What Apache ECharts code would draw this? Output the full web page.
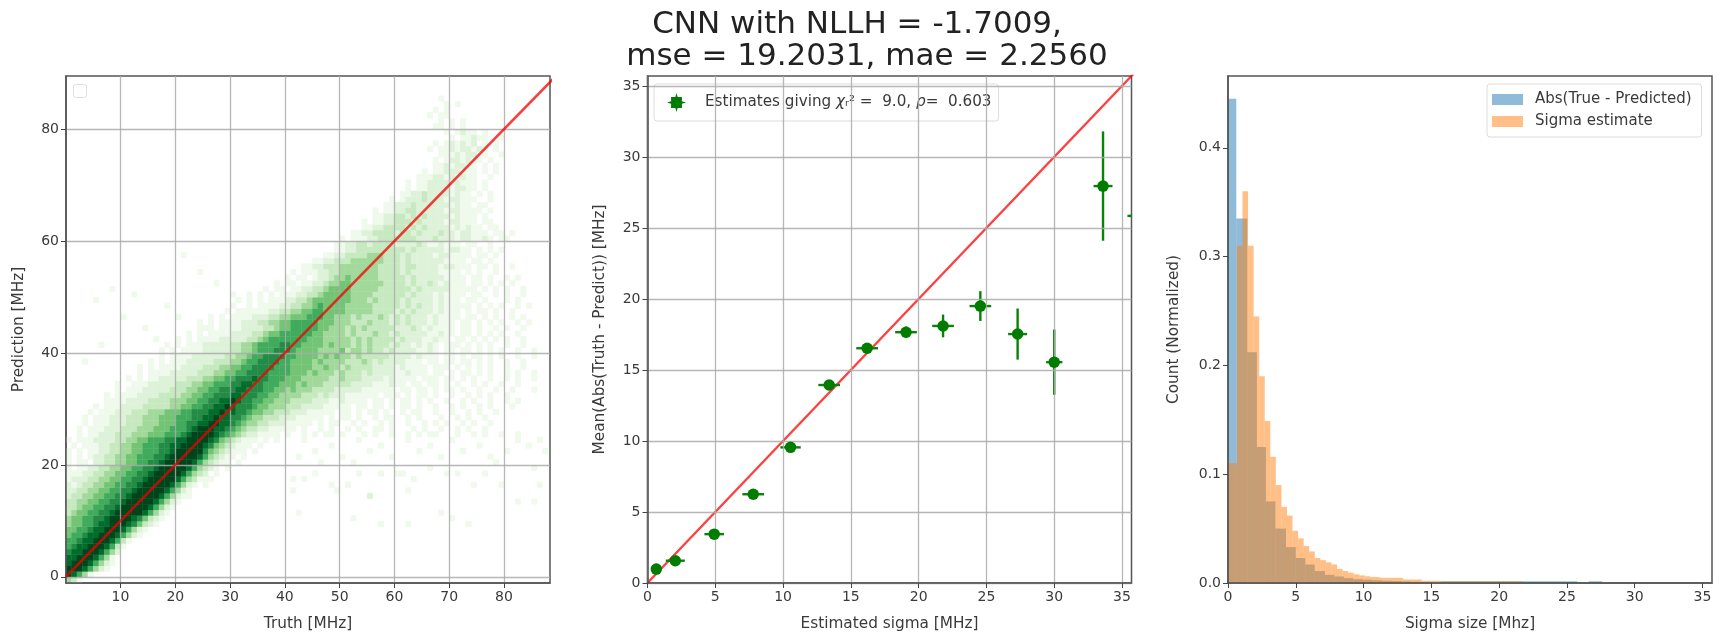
<!DOCTYPE html>
<html><head><meta charset="utf-8">
<style>html,body{margin:0;padding:0;background:#fff}#c{width:1719px;height:634px}#c canvas{filter:blur(0.5px)}</style>
<script src="https://cdn.jsdelivr.net/npm/echarts@6/dist/echarts.min.js"></script>
</head><body><div id="c"></div>
<script>
// Panel 1: 2D histogram, shade levels 0-9. One string per 1 MHz prediction row, first row is -1.
// "left|right": the character right after the bar is the cell where truth == prediction.
const heatRows = [
"|0431","|98641","9|9986421","89|9986421","889|998641","7889|9986420","67889|998631","667889|998631",
"5667889|9986421","55667889|9986421","455667889|99875321","4556677899|99875321","34556677899|99986421",
"334556677899|99986421","3344556677899|999864210","23344556677899|999864211","223344556677899|999864210",
"2123344556677899|9998642101","12223344556677899|9998643111","111223344556677899|9998643201",
"1011223344556677899|99986432101","10110223344556677899|999864321101","101012233445566677899|9998643211010",
"1010112233445566677899|9997543211101","01011122334455666778899|99875432111010","101112222334455666778899|998754321110101",
"10112223334445556667899|9987654322111101001010110100010100100101011000100101001001",
"101112223334445556667899|98876543322111110100101001010011010001010010010100100",
"0101112223334445556677889|988765443322211111010110010100101001001010100101001",
"1011122233344455566677889|88776544333222111110101101001011001010001001010010",
"1011122233344455566777889|8877655443332221111101101011010010110010010010100100",
"1011122223333344556677889|87776554443332222111110110110101101001001010010100010",
"0111122223333444556677889|8776655444333322211211110110101101010010010100100101",
"1011112222333344556677788|777665544443332322211111101110101101001001010100100",
"0101112222233344556677788|77766554544433332222211111101101101011010010010010001",
"1001112222233344556667788|7766655545444333332222111211011011010100101001001",
"0101011222223334455667778|776665554444433433322221211110111011010100100101001",
"0010111122222333445566777|76666555454443433323222211211101101011010100101001",
"0101011112222333445566777|7666555544544343333222212111101110101010100100100",
"0010101112222233344566777|76655554544443334323222211101101101101010010010",
"0001011112222223344566777|76655554545443433333222212111011010110101001001",
"0010101111222223344566677|76555544445344343323222211210110110101010010010",
"00010101112222233445666677|6655554544434343332322121210111010101001001",
"0001010111122222334566666|66555444443434333323222112110110101010100100",
"0000101011112222334556666|6655444434333433232222211211011010101001",
"000010101111222233455666|6655444343433333222321211110110100101001",
"00000101011112223344556666|6555444333433323232221211101101010100101",
"0000010101111222334455566|65544434333432323222121111011010100101",
"000101011112233445566|5555444443333232322212111010110100100",
"00100101111223344565|5554444433333232322121111101010100101",
"0101010111223345555|5554443433332322221211101101000101",
"10101011122334555|5544443333332322212111101100101001",
"0101101122334555|5444443333332322222111110101010010",
"010110112234455|44444433332322321211101101010100",
"01011012234454|444433333232222211110110100101",
"1011122334444|44433332322222111101010010",
"112233344444|4433332332222122111011010010",
"11223334444|443332322222211110110100",
"1122333344|43332322221221111011010",
"112233333|33332322222122110101010",
"1122332333|3222232112111011001",
"1011122333|333322232221221121011",
"0112233332|3323222322122111011010",
"011223333|232322221212110110",
"101122333|2322221221110110",
"011223323|23222212111010",
"101122332|2222122111101",
"011222322|222212110110",
"10122232|22122111001",
"01122322|2212110101",
"1011222|212211010",
"10112222|12111010",
"01112212|1211001",
"1011222|1110101",
"0112122|1101010",
"1012212|110100",
"1112122|01001",
"1011212212|1010",
"1012121201|0100",
"10112110|010",
"1012110100|0",
"1101010000000|",
"1010100000000|",
"1011000000000000|",
"1010000000000000|",
"0101000000000000|",
"010000000000000000|"
];
// Isolated faint cells: truth bin, prediction bin, shade
const heatSpecks = [
[12,50,1],[5,49,1],[18,48,1],[21,57,1],[16,42,1],[25,44,1],[30,50,1],[32,47,1],[8,51,1],[10,46,1],[14,44,1],[20,46,1],[27,52,1],[24,54,1],[3,38,1],[6,41,1],
[42,11,1],[41,15,1],[49,15,1],[55,14,2],[57,9,1],[62,9,1],[73,9,1],[52,10,1],[62,15,1],[66,19,1],[78,20,1],[53,18,1],[57,18,1],[69,18,1],[71,18,1],[76,18,1],[82,13,1],[85,13,1],[86,16,1],[68,11,1],[43,17,1],[45,18,1],[48,16,1],[51,16,1],[61,18,1],[63,17,1],[74,16,1],[79,16,1],[70,10,1],[85,19,1],[60,18,1],[41,17,1],
[42,21,1],[45,22,1],[48,23,1],[50,21,1],[53,24,1],[55,22,1],[57,23,1],[59,21,1],[62,24,1],[64,22,1],[66,23,1],[68,21,1],[70,24,1],[72,22,1],[75,23,1],[77,21,1],[80,22,1],[82,24,1],[84,23,1],[87,22,1],[86,24,1],[43,24,1],[46,20,1],[52,20,1]
];
const heatShades = ["#ffffff","#eff9ec","#def2d9","#c7e9c0","#a1d99b","#74c476","#41ab5d","#238b45","#006d2c","#00441b"];
const diagonal1 = [[0,0],[90,90]];
const p1XTicks = [10,20,30,40,50,60,70,80];
const p1YTicks = [0,20,40,60,80];

// Panel 2: sigma, mean abs error, sigma err, mean err
const estSigma = [0.65,2.05,4.92,7.8,10.55,13.4,16.2,19.07,21.8,24.55,27.3,30.0,33.6,36.3];
const estMean  = [0.98,1.57,3.44,6.25,9.55,13.94,16.53,17.66,18.1,19.5,17.53,15.55,27.95,25.85];
const estSigmaErr = [0.35,0.7,0.72,0.8,0.75,0.8,0.8,0.8,0.8,0.8,0.7,0.6,0.7,0.9];
const estMeanErr  = [0.05,0.08,0.1,0.12,0.15,0.15,0.2,0.4,0.8,1.05,1.8,2.3,3.85,0.05];
const diagonal2 = [[0,0],[36,36]];
const p2Ticks = [0,5,10,15,20,25,30,35];

// Panel 3: bin edges and normalized heights
const absEdges = [0,0.61,1.42,2.13,2.8,3.5,4.28,5.0,5.7,6.4,7.15,7.85,8.55,9.25,9.95,10.65,11.35,12.05,12.75,13.45,14.15,15.7,25.76,26.6,27.6];
const absHeights = [0.445,0.335,0.212,0.125,0.075,0.05,0.033,0.023,0.017,0.011,0.0075,0.006,0.0045,0.0035,0.003,0.0025,0.002,0.0018,0.0015,0.0012,0.001,0.0016,0,0.0016];
const sigEdges = [0,0.05,0.66,1.07,1.48,1.89,2.3,2.71,3.12,3.53,3.94,4.35,4.76,5.17,5.58,5.99,6.4,6.81,7.22,7.63,8.04,8.45,8.86,9.27,9.68,10.09,10.5,11.2,12.9,14.3,15.7,21.7];
const sigHeights = [0.015,0.11,0.31,0.36,0.31,0.245,0.19,0.149,0.116,0.09,0.07,0.062,0.048,0.041,0.034,0.029,0.023,0.021,0.019,0.017,0.013,0.011,0.0095,0.008,0.007,0.0062,0.0055,0.0048,0.0032,0.002,0.0016,0.0016];
const p3XTicks = [0,5,10,15,20,25,30,35];
const p3YTicks = [0,0.1,0.2,0.3,0.4];

const FONT = 'DejaVu Sans';
const TXT = '#3a3a3a', SPINE = '#555';

// expand rows into [x, y, shade]
const heatCells = [];
heatRows.forEach((row, i) => {
  const y = i - 1, parts = row.split('|'), x0 = y - parts[0].length, s = parts.join('');
  for (let k = 0; k < s.length; k++) if (s[k] !== '0') heatCells.push([x0 + k, y, +s[k]]);
});
heatSpecks.forEach(c => heatCells.push(c));

function bars(edges, heights) { return heights.map((h, i) => [edges[i], edges[i + 1], h]); }

function axis(gridIndex, min, max, ticks, name, gap, fmt, grid) {
  return {
    type: 'value', gridIndex, min, max, name, nameLocation: 'middle', nameGap: gap, z: 5,
    nameTextStyle: { color: TXT, fontFamily: FONT, fontSize: 15.3 },
    axisLine: { show: true, onZero: false, lineStyle: { color: SPINE, width: 1.5 } },
    axisTick: { show: true, length: 5, customValues: ticks, lineStyle: { color: '#444', width: 1 } },
    axisLabel: { show: true, customValues: ticks, margin: 7, color: TXT, fontFamily: FONT, fontSize: 14, formatter: fmt || (v => String(v)), hideOverlap: false },
    splitLine: { show: !!grid, lineStyle: { color: 'rgba(170,170,170,0.85)', width: 1.3 } }
  };
}
const gridBase = { show: true, outerBoundsMode: 'none', containLabel: false, borderColor: SPINE, borderWidth: 1.5, backgroundColor: 'transparent', top: 76, height: 507, width: 484 };
const rectSeries = (name, data, color, xi) => ({
  type: 'custom', name, xAxisIndex: xi, yAxisIndex: xi, data, clip: true,
  encode: { x: [0, 1], y: 2 }, itemStyle: { color }, z: 2,
  renderItem(p, api) {
    const a = api.coord([api.value(0), api.value(2)]), b = api.coord([api.value(1), 0]);
    return { type: 'rect', shape: { x: a[0], y: a[1], width: b[0] - a[0], height: b[1] - a[1] }, style: { fill: color } };
  }
});
const estimateName = 'Estimates giving χᵣ² =  9.0, ρ =  0.603';
const chart = echarts.init(document.getElementById('c'), null, { renderer: 'canvas' });
chart.setOption({
  animation: false,
  backgroundColor: '#fff',
  title: { text: 'CNN with NLLH = -1.7009, \n mse = 19.2031, mae = 2.2560', left: 857, top: 4, textAlign: 'center',
    textStyle: { fontFamily: FONT, fontSize: 31, fontWeight: 'normal', color: '#222', lineHeight: 32 } },
  grid: [ { ...gridBase, left: 66 }, { ...gridBase, left: 647.5 }, { ...gridBase, left: 1228 } ],
  xAxis: [
    axis(0, 0.05, 88.4, p1XTicks, 'Truth [MHz]', 34, null, true),
    axis(1, 0, 35.7, p2Ticks, 'Estimated sigma [MHz]', 34, null, true),
    axis(2, 0, 35.7, p3XTicks, 'Sigma size [Mhz]', 34, null, false)
  ],
  yAxis: [
    axis(0, -1.1, 89.5, p1YTicks, 'Prediction [MHz]', 39, null, true),
    axis(1, 0, 35.7, p2Ticks, 'Mean(Abs(Truth - Predict)) [MHz]', 40, null, true),
    axis(2, 0, 0.466, p3YTicks, 'Count (Normalized)', 46, v => v.toFixed(1), false)
  ],
  legend: [
    { show: true, data: [{ name: estimateName, icon: 'path://M5 0.8L5.5 2.6L7.4 2.6L7.4 4.5L9.2 5L7.4 5.5L7.4 7.4L5.5 7.4L5 9.2L4.5 7.4L2.6 7.4L2.6 5.5L0.8 5L2.6 4.5L2.6 2.6L4.5 2.6Z' }], left: 654, top: 84, itemWidth: 19, itemHeight: 19, itemGap: 0,
      padding: [9, 7, 9, 13], borderColor: '#dcdcdc', borderWidth: 1, borderRadius: 3, backgroundColor: 'rgba(255,255,255,0.8)',
      formatter: () => '{t|Estimates giving }{i|χ}{t|ᵣ² =  9.0, }{i|ρ}{t|=  0.603}',
      textStyle: { fontFamily: FONT, fontSize: 15.2, color: TXT, padding: [0, 0, 0, 14],
        rich: { t: { fontFamily: FONT, fontSize: 15.2, color: TXT }, i: { fontFamily: FONT, fontSize: 15.2, fontStyle: 'italic', color: TXT } } } },
    { show: true, orient: 'vertical', data: ['Abs(True - Predicted)', 'Sigma estimate'], icon: 'rect', left: 1487, top: 84, itemWidth: 31, itemHeight: 11, itemGap: 7,
      padding: [8, 10, 8, 5], borderColor: '#dcdcdc', borderWidth: 1, borderRadius: 3, backgroundColor: 'rgba(255,255,255,0.8)',
      textStyle: { fontFamily: FONT, fontSize: 15, color: TXT, padding: [0, 0, 0, 7] } }
  ],
  graphic: [{ type: 'rect', left: 73, top: 84, shape: { width: 13, height: 13, r: 2 }, style: { fill: '#fff', stroke: '#dedede', lineWidth: 1 }, z: 100 }],
  series: [
    { type: 'custom', name: 'Density', xAxisIndex: 0, yAxisIndex: 0, data: heatCells, clip: true, encode: { x: 0, y: 1 }, z: 2,
      renderItem(p, api) {
        const x = api.value(0), y = api.value(1);
        const a = api.coord([x, y + 1]), b = api.coord([x + 1, y]);
        return { type: 'rect', shape: { x: a[0], y: a[1], width: b[0] - a[0] + 0.4, height: b[1] - a[1] + 0.4 }, style: { fill: heatShades[api.value(2)] } };
      } },
    { type: 'line', name: 'y=x 1', xAxisIndex: 0, yAxisIndex: 0, data: diagonal1, showSymbol: false, z: 10, silent: true, lineStyle: { color: 'rgba(240,0,0,0.75)', width: 2.6 } },
    { type: 'line', name: 'y=x 2', xAxisIndex: 1, yAxisIndex: 1, data: diagonal2, showSymbol: false, z: 3, silent: true, lineStyle: { color: 'rgba(255,0,0,0.75)', width: 2.4 } },
    { type: 'custom', name: 'Error bars', xAxisIndex: 1, yAxisIndex: 1, clip: true, z: 4,
      data: estSigma.map((s, i) => [s, estMean[i], estSigmaErr[i], estMeanErr[i]]), encode: { x: 0, y: 1 },
      renderItem(p, api) {
        const x = api.value(0), y = api.value(1), ex = api.value(2), ey = api.value(3);
        const l = api.coord([x - ex, y]), r = api.coord([x + ex, y]), t = api.coord([x, y + ey]), b = api.coord([x, y - ey]);
        const st = { stroke: '#0a820a', lineWidth: 2.4, fill: null };
        return { type: 'group', children: [
          { type: 'line', shape: { x1: l[0], y1: l[1], x2: r[0], y2: r[1] }, style: st },
          { type: 'line', shape: { x1: t[0], y1: t[1], x2: b[0], y2: b[1] }, style: st } ] };
      } },
    { type: 'scatter', name: estimateName, xAxisIndex: 1, yAxisIndex: 1, z: 5, clip: true,
      data: estSigma.map((s, i) => [s, estMean[i]]), symbol: 'circle', symbolSize: 11.5, itemStyle: { color: '#007d00', opacity: 1 } },
    rectSeries('Abs(True - Predicted)', bars(absEdges, absHeights), 'rgba(31,119,180,0.5)', 2),
    rectSeries('Sigma estimate', bars(sigEdges, sigHeights), 'rgba(255,127,14,0.5)', 2)
  ]
});
</script></body></html>
